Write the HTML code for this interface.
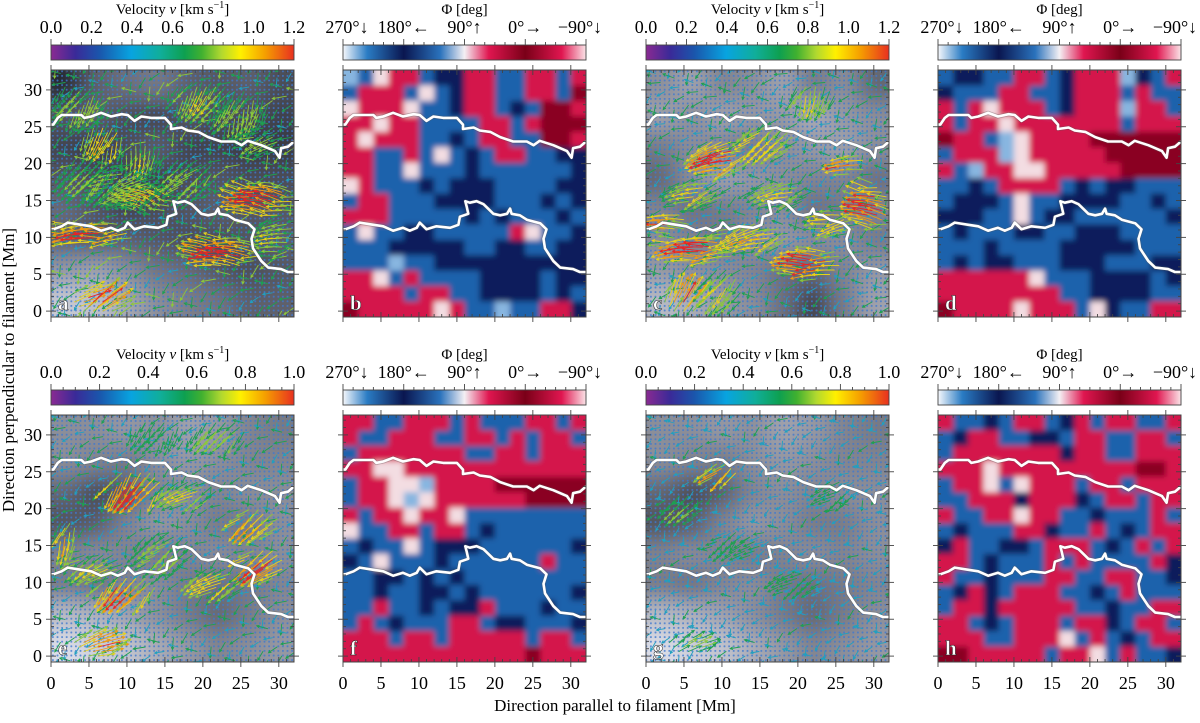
<!DOCTYPE html>
<html><head><meta charset="utf-8">
<style>
html,body{margin:0;padding:0;background:#fff;}
svg, svg text{font-family:"Liberation Serif","DejaVu Serif",serif;}
</style></head>
<body>
<svg id="fig" width="1200" height="718" viewBox="0 0 1200 718" xmlns="http://www.w3.org/2000/svg" font-family="Liberation Serif, serif">
<defs>
<linearGradient id="gVel" x1="0" x2="1" y1="0" y2="0">
<stop offset="0" stop-color="#8a2a92"/><stop offset="0.1" stop-color="#3a2a98"/><stop offset="0.2" stop-color="#1a56ac"/>
<stop offset="0.33" stop-color="#08a4e0"/><stop offset="0.45" stop-color="#10ae9a"/><stop offset="0.55" stop-color="#0ea050"/>
<stop offset="0.62" stop-color="#40b030"/><stop offset="0.7" stop-color="#b0d830"/><stop offset="0.78" stop-color="#fff000"/>
<stop offset="0.88" stop-color="#f5a000"/><stop offset="1" stop-color="#e83020"/>
</linearGradient>
<linearGradient id="gPhi" x1="0" x2="1" y1="0" y2="0">
<stop offset="0" stop-color="#f6f8fc"/><stop offset="0.1" stop-color="#2a7cc4"/><stop offset="0.25" stop-color="#0a1650"/>
<stop offset="0.4" stop-color="#2a72bc"/><stop offset="0.5" stop-color="#f4f0f4"/><stop offset="0.6" stop-color="#e01650"/>
<stop offset="0.75" stop-color="#7a0018"/><stop offset="0.9" stop-color="#e01650"/><stop offset="1" stop-color="#fbe4e8"/>
</linearGradient>
<pattern id="dots" width="4.6" height="4.6" patternUnits="userSpaceOnUse">
<circle cx="2.3" cy="2.3" r="1" fill="#3f78d0" opacity="0.8"/>
</pattern>
<filter id="blurBig" x="-20%" y="-20%" width="140%" height="140%"><feGaussianBlur stdDeviation="11"/></filter>
<filter id="blurSmall" x="-5%" y="-5%" width="110%" height="110%"><feGaussianBlur stdDeviation="3"/></filter>
</defs>
<g id="root"></g>
<text x="14" y="370" font-size="17" text-anchor="middle" transform="rotate(-90 14 370)">Direction perpendicular to filament [Mm]</text>
<text x="615" y="711" font-size="17" text-anchor="middle">Direction parallel to filament [Mm]</text>
</svg>
<script>
// ---------- data ----------
const xTicks = [0,5,10,15,20,25,30];
const yTicks = [0,5,10,15,20,25,30];
const velTicksTop = ["0.0","0.2","0.4","0.6","0.8","1.0","1.2"];
const velTicksBottom = ["0.0","0.2","0.4","0.6","0.8","1.0"];
const phiTickLabels = ["270°↓","180°←","90°↑","0°→","−90°↓"];
const panelLetters = ["a","b","c","d","e","f","g","h"];
const upperContour = [[0,25.3],[0.3,25.3],[0.9,26.2],[1.4,26.6],[4.0,26.6],[4.4,26.2],[5.3,26.4],[6.6,26.9],[7.9,26.4],[9.3,26.7],[10.1,26.6],[11.0,25.8],[11.9,26.4],[13.2,26.2],[15.0,26.2],[15.8,25.3],[15.8,24.7],[17.2,24.9],[18.0,24.5],[19.4,24.3],[20.7,23.6],[22.4,23.0],[24.2,23.0],[25.1,22.5],[25.9,23.1],[27.7,22.5],[29.5,21.7],[30.1,20.8],[30.3,22.1],[31.2,22.3],[32,23.0]];
const lowerContour = [[0,11.1],[0.3,11.1],[1.4,11.5],[2.2,12.0],[4.0,11.7],[5.3,11.5],[6.6,10.9],[7.9,11.3],[8.8,10.9],[9.7,11.3],[10.1,12.0],[11.0,11.1],[12.3,11.5],[14.1,11.3],[15.2,11.7],[15.4,12.8],[16.5,13.2],[16.3,14.1],[16.1,14.9],[16.7,14.7],[17.6,14.9],[18.5,14.5],[18.9,14.1],[19.8,13.2],[20.7,13.0],[21.6,13.2],[22.0,13.9],[22.2,13.2],[23.3,13.0],[24.2,12.4],[26.0,11.9],[26.8,11.1],[26.4,9.8],[26.6,8.5],[27.7,6.8],[28.6,5.9],[30.3,5.7],[31.2,5.3],[32,5.3]];
const grayA = [[40,95,110,120,95,85,95,75],[85,95,75,65,85,75,75,65],[65,55,75,95,65,65,55,55],[85,75,65,65,75,85,75,75],[105,85,65,75,85,95,85,85],[95,85,95,85,75,75,85,95],[150,160,140,115,105,85,75,85],[200,190,165,140,125,115,95,95]];
const grayC = [[140,160,130,140,160,120,140,100],[160,140,160,150,150,170,150,140],[120,140,130,120,140,150,160,140],[100,140,160,150,140,130,130,110],[130,110,120,130,140,110,120,130],[140,130,120,140,150,140,140,120],[150,140,140,130,110,100,130,150],[185,170,150,140,110,60,120,160]];
const grayEG = [[140,140,150,140,160,150,130,120],[140,130,120,140,150,140,130,130],[100,70,90,130,140,130,140,140],[80,90,130,150,140,120,120,140],[130,140,130,120,130,140,130,140],[120,110,130,140,120,110,120,130],[185,175,160,140,120,100,120,140],[220,205,195,170,150,130,140,150]];
const phiB = ["LBWRRBNNRRBBRRBR","BRRRBWBNRRBBRRBD","WRRRWBBNRRBNBDDR","RRWRRBBBBRRBRDDD","RWRRRBBNBRRBBDDR","RRBBRBWBNBRRBBNN","RRBBWBBBNBBBBBBN","WRBBBNBNNNBBBBNN","BRRBBBNNNNBBBNBN","RRRBBBBBNBNBBBNB","BWBBNNBBBBBRWBBN","BBBNNNNNBBNNBBNN","BBBLBBNNNNNNNNNN","RRWBRBBBBNNNNBNN","RRRRBRRBBNNNNBNB","DRRRRRWRBBLBBRRN"];
const phiD = ["BNNBBRRBNRRRLNBR","NBBBRRBBNRRRBRBB","RBRWRRRBNRRRLRRB","RBRRWRRRRRRRBRRR","DRRBLWRRRRDDDDDD","BRRRLWRRRRRDDDDD","RBLRRWWRRRRRDDDD","BBNBRRRRBNBNNBBB","BNNNBWBBNNNNBBNB","NNNBBWBNNBBBBBBN","BNBBBNNBBNNNBBBB","BBBNBBBBNNNNNBBB","BNBNNBBBNNNBBBNN","RRRRRRWBBBNNNNBN","RRRRRRRRBBNNNNBB","DRRRRWRRRBWNBBRR"];
const phiF = ["RRBBRRRBRBBBRRBR","RBBRRRBBRRBRBRRB","BRRRRRRRBBRRBRRR","RRWWRRRRRRRRRRRR","BRRWWLRRRRDDDDDD","BRRWLWRRRRRRDDDD","RBRRWRRWBBBBBBBB","WBBRRBRRBNBBBBBB","BNBBWBNNNBBBBBBN","NBWBBBNBBBBBBRBB","BBNNBNBNBBBBBBBB","BBNBBNNBNBBBBBBN","BBRBBNBNNRBBBNBB","BRBNBBBRRBNNBBBN","RRRBRRBRRRRRBRRB","RRRRRRRRRRRRDRRR"];
const phiH = ["RBBNBRRBNRBRRBBR","BNRRBBNNBRRBBRRB","BRRRRRRRNRRBBRRR","RRRWRRRRRRRRRDDR","BRRWBWRRRBRRBRRR","BBRRRNRRRNBRRBRR","RBBRRWRRBBNBBBRB","BNBBBRRNBBRBNBRR","NRBBNNBRRRBNBRBR","RRBNBBBRBRBBBBRN","RBBNBBBRRBBRRBBN","BNRNBRRRBBNBRBBB","BRRNRRRRRBBNBBRR","RRBNBRRRBRRNBRRB","RRRBBRRRWBRBNBRR","DDRRRRRBRRWBRBBN"];
// arrow clusters: [cx, cy, rx, ry, angleDeg, speedLevel(0..1)]
const arrowsA = [[16,16,18,18,215,0.3],[28,15,4.5,2.5,170,1],[23,8,5,2.2,175,1],[5,10.5,6,1.8,185,0.95],[13,15,4,2,160,0.75],[7,23.5,3,2,250,0.75],[12,21,3,2,260,0.6],[6,1.5,3.5,2,30,0.95],[20,29,4,2.5,240,0.6],[25,27,4,3,250,0.55],[4,28,4,3,240,0.5],[10,17,5,3,200,0.55],[18,18,4,3,220,0.5],[28,23,3,2,200,0.5],[5,18,4,3,230,0.5],[30,10,2.5,3,190,0.6]];
const arrowsC = [[16,16,18,18,210,0.25],[10,21,3.5,2.5,200,1],[7,8.5,5,2,185,1],[22,6.5,4,2.2,180,1],[30,14,2.5,3.5,170,1],[27,20,2,1.5,190,0.9],[3,12,3,1.5,180,0.9],[16,23,4,2.5,220,0.7],[14,10,5,2,200,0.75],[18,16,4,2,200,0.6],[5,1.5,3,2,60,0.9],[22,29,3,2,250,0.6],[25,12,3,2,190,0.7],[7,16,4,2,200,0.6],[10,3,3,3,230,0.6]];
const arrowsE = [[16,16,18,18,215,0.22],[11,23,4,2.2,235,1],[28,12.5,3,2.2,215,1],[10,9,4,2,230,0.95],[6,1.5,3,1.8,20,0.9],[2,16,1.5,2.5,250,0.75],[22,10,4,2,210,0.7],[18,22,4,2,210,0.6],[27,18,3,2,220,0.85],[6,12,4,2,210,0.6],[22,30,4,2,230,0.55],[14,30,4,2,240,0.4],[15,14,4,3,220,0.5]];
const arrowsG = [[16,16,18,18,215,0.15],[10,25,2.5,1.2,220,0.8],[5,20,3,2,220,0.45],[20,10,4,2,210,0.35],[6,1.5,3,1.5,30,0.5],[25,22,3,2,210,0.35],[12,15,4,2,210,0.35]];

// ---------- layout ----------
const colX = [51,343,646,938];
const rowY = [70,415];
const W = 243, H = 247;
const XMIN=0, XMAX=32, YMIN=-0.8, YMAX=32.7;
const NS = "http://www.w3.org/2000/svg";
const root = document.getElementById('root');
function el(tag, attrs, parent){
  const e = document.createElementNS(NS, tag);
  for (const k in attrs) e.setAttribute(k, attrs[k]);
  if (tag==='text') e.setAttribute('font-family','Liberation Serif, DejaVu Serif, serif');
  (parent||root).appendChild(e);
  return e;
}
function xs(x0,v){ return x0 + (v-XMIN)/(XMAX-XMIN)*W; }
function ys(y0,v){ return y0 + H - (v-YMIN)/(YMAX-YMIN)*H; }
const phiColors = {N:"#0c1a5c",B:"#1f62ac",L:"#88b6e0",W:"#f3dde2",R:"#d4124c",D:"#8a0522"};
function velColor(s){
  if (s>0.88) return "#e82424";
  if (s>0.72) return "#f09a10";
  if (s>0.55) return "#e6d21a";
  if (s>0.4) return "#8cc83a";
  if (s>0.2) return "#1ea050";
  return "#20a0c0";
}

const panels = [
  {col:0,row:0,type:"vel",gray:grayA,arrows:arrowsA,letter:0},
  {col:1,row:0,type:"phi",map:phiB,letter:1},
  {col:2,row:0,type:"vel",gray:grayC,arrows:arrowsC,letter:2},
  {col:3,row:0,type:"phi",map:phiD,letter:3},
  {col:0,row:1,type:"vel",gray:grayEG,arrows:arrowsE,letter:4},
  {col:1,row:1,type:"phi",map:phiF,letter:5},
  {col:2,row:1,type:"vel",gray:grayEG,arrows:arrowsG,letter:6},
  {col:3,row:1,type:"phi",map:phiH,letter:7}
];

panels.forEach((p,idx)=>{
  const x0 = colX[p.col], y0 = rowY[p.row];
  const g = el('g',{});
  
  
  const cid = 'clip'+idx;
  const cp = el('clipPath',{id:cid},g);
  el('rect',{x:x0,y:y0,width:W,height:H},cp);
  const inner = el('g',{'clip-path':'url(#'+cid+')'},g);

  if (p.type==="vel"){
    el('rect',{x:x0,y:y0,width:W,height:H,fill:"#808389"},inner);
    const bg = el('g',{filter:'url(#blurBig)'},inner);
    
    
    const n = p.gray.length, cw = W/8, ch = H/8;
    for (let r=0;r<n;r++) for (let c=0;c<8;c++){
      const v = p.gray[r][c];
      const b = Math.min(255, v+12);
      el('rect',{x:x0+c*cw-(c===0?20:0),y:y0+r*ch-(r===0?20:0),width:cw+(c===0||c===7?20:0)+1,height:ch+(r===0||r===7?20:0)+1,fill:`rgb(${v},${v+2},${b})`},bg);
    }
    const dots = el('rect',{x:x0,y:y0,width:W,height:H,fill:'url(#dots)'},inner);
    
    
    const ag = el('g',{'stroke-linecap':'round'},inner);
    
    
    const step = 0.62;
    p.arrows.forEach((a,ai)=>{
      const [cx,cy,rx,ry,ang,lev] = a;
      const bgField = ai===0;
      for (let gx=Math.floor((cx-rx)/step); gx*step<=cx+rx; gx++){
        for (let gy=Math.floor((cy-ry)/step); gy*step<=cy+ry; gy++){
          if (bgField) { if ((gx*3+gy*5)%7) continue; }
          else if ((gx+gy+ai)%2) continue;
          const px=gx*step, py=gy*step;
          const d = bgField ? 0 : ((px-cx)/rx)**2 + ((py-cy)/ry)**2;
          if (d>1) continue;
          const s = lev*(1-0.55*d) * (bgField ? (0.6+((gx*11+gy*7)%5)*0.2) : 1);
          const len = 0.8 + s*2.6;
          const th = (ang + ((gx*7+gy*13)%5-2)*(bgField?25:6))*Math.PI/180;
          const X1 = xs(x0,px), Y1 = ys(y0,py);
          const dx = Math.cos(th)*len*W/32, dy = -Math.sin(th)*len*H/33.5;
          const X2 = X1+dx, Y2 = Y1+dy;
          const col = velColor(s);
          const L = Math.hypot(dx,dy), ux=dx/L, uy=dy/L, hs=2.4;
          const ln = el('path',{d:`M${X1.toFixed(1)},${Y1.toFixed(1)}L${X2.toFixed(1)},${Y2.toFixed(1)}M${(X2-hs*ux-hs*0.5*uy).toFixed(1)},${(Y2-hs*uy+hs*0.5*ux).toFixed(1)}L${X2.toFixed(1)},${Y2.toFixed(1)}L${(X2-hs*ux+hs*0.5*uy).toFixed(1)},${(Y2-hs*uy-hs*0.5*ux).toFixed(1)}`,stroke:col,'stroke-width':0.9,fill:'none'},ag);
          
          
        }
      }
    });
  } else {
    const mg = el('g',{filter:'url(#blurSmall)'},inner);
    
    
    const n = p.map.length, cw = W/16, ch = H/16;
    for (let r=0;r<n;r++) for (let c=0;c<16;c++){
      el('rect',{x:x0+c*cw-(c===0?6:0),y:y0+r*ch-(r===0?6:0),width:cw+(c===0||c===15?6:0)+0.6,height:ch+(r===0||r===15?6:0)+0.6,fill:phiColors[p.map[r][c]]},mg);
    }
  }
  [upperContour,lowerContour].forEach((cnt,ci)=>{
    const d = cnt.map((pt,i)=>(i?'L':'M')+xs(x0,pt[0]).toFixed(1)+','+ys(y0,pt[1]).toFixed(1)).join('');
    el('path',{d,stroke:'#555',"stroke-width":4.2,fill:'none','stroke-opacity':0.35,'stroke-linejoin':'round'},inner);
    const c = el('path',{d,stroke:'#fff',"stroke-width":2.6,fill:'none','stroke-linejoin':'round'},inner);
    
    
  });
  const lt = el('text',{x:x0+7,y:y0+H-7,'font-size':21,'font-weight':'bold',fill:'#fff',stroke:'#222','stroke-width':0.5},g);
  lt.textContent = panelLetters[p.letter];
  
  
  el('rect',{x:x0,y:y0,width:W,height:H,fill:'none',stroke:'#444','stroke-width':1},g);
  const tg = el('g',{stroke:'#444','stroke-width':0.9},g);
  for (let v=0; v<=32; v++){
    const X = xs(x0,v), major = v%5===0;
    el('line',{x1:X,x2:X,y1:y0+H+(major?5:0),y2:y0+H-(major?5:3)},tg);
    el('line',{x1:X,x2:X,y1:y0-(major?5:0),y2:y0+(major?5:3)},tg);
  }
  for (let v=0; v<=32; v++){
    const Y = ys(y0,v), major = v%5===0;
    el('line',{y1:Y,y2:Y,x1:x0-(major?5:0),x2:x0+(major?5:3)},tg);
    el('line',{y1:Y,y2:Y,x1:x0+W+(major?5:0),x2:x0+W-(major?5:3)},tg);
  }
  if (p.col===0){
    yTicks.forEach(v=>{
      const t = el('text',{x:x0-9,y:ys(y0,v)+6,'font-size':18,'text-anchor':'end'},g);
      t.textContent = v;
      
      
    });
  }
  if (p.row===1){
    xTicks.forEach(v=>{
      const t = el('text',{x:xs(x0,v),y:y0+H+27,'font-size':18,'text-anchor':'middle'},g);
      t.textContent = v;
      
      
    });
  }
  const cb = el('g',{},g);
  
  
  const cy0 = y0-25;
  el('rect',{x:x0,y:cy0,width:W,height:15,fill:p.type==='vel'?'url(#gVel)':'url(#gPhi)',stroke:'#444','stroke-width':0.9},cb);
  const title = el('text',{x:x0+W/2,y:y0-56,'font-size':15,'text-anchor':'middle'},cb);
  if (p.type==='vel'){
    title.innerHTML = 'Velocity  <tspan font-style="italic">v</tspan>   [km s<tspan font-size="10" dy="-6">−1</tspan><tspan dy="6">]</tspan>';
    const labs = p.row===0 ? velTicksTop : velTicksBottom;
    const maxv = parseFloat(labs[labs.length-1]);
    const nMinor = Math.round(maxv/0.05);
    for (let i=0;i<=nMinor;i++){
      const X = x0 + i/nMinor*W, major = i%4===0;
      el('line',{x1:X,x2:X,y1:cy0,y2:cy0-(major?6:3),stroke:'#444','stroke-width':0.9},cb);
    }
    labs.forEach((l,i)=>{
      const t = el('text',{x:x0+parseFloat(l)/maxv*W,y:cy0-12,'font-size':18,'text-anchor':'middle'},cb);
      t.textContent = l;
      
      
    });
  } else {
    title.textContent = 'Φ [deg]';
    for (let i=0;i<=24;i++){
      const X = x0 + i/24*W, major = i%6===0;
      el('line',{x1:X,x2:X,y1:cy0,y2:cy0-(major?6:3),stroke:'#444','stroke-width':0.9},cb);
    }
    phiTickLabels.forEach((l,i)=>{
      const t = el('text',{x:x0+i/4*W + (i===0?4:(i===4?-6:0)),y:cy0-12,'font-size':18,'text-anchor':'middle'},cb);
      t.textContent = l;
      
      
    });
  }
  
  
});
</script>
</body></html>
